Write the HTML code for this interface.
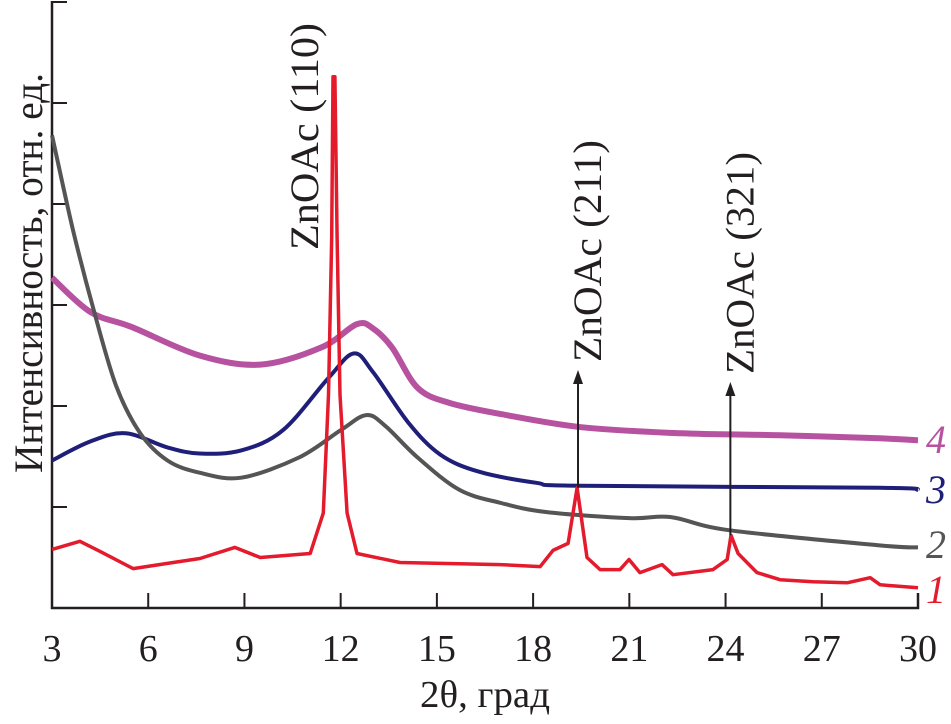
<!DOCTYPE html>
<html><head><meta charset="utf-8"><style>
html,body{margin:0;padding:0;background:#fff;}
svg{display:block;}
text{font-family:"Liberation Serif","Times New Roman",serif;fill:#231f20;}
</style></head><body>
<svg id="chart" width="951" height="724" viewBox="0 0 951 724">
<g id="axes"></g>
<g id="series"></g>
<g id="annot"></g>
</svg>
<script>
const xTicks=[3,6,9,12,15,18,21,24,27,30];
const yTickVals=[1,2,3,4,5,6];
const t1=[3,3.87,4.5,5.53,6.78,7.61,8.7,9.49,11.05,11.46,11.62,11.72,11.76,11.82,11.89,11.98,12.2,12.51,13.85,16.97,18.22,18.62,19.09,19.37,19.68,20.09,20.71,20.99,21.33,22.02,22.36,23.61,24.05,24.17,24.39,24.98,25.7,26.73,27.79,28.51,28.82,30];
const v1=[0.58,0.66,0.56,0.39,0.45,0.49,0.60,0.50,0.54,0.94,2.11,3.67,5.26,5.26,3.67,2.11,0.94,0.54,0.45,0.43,0.41,0.57,0.64,1.19,0.50,0.38,0.38,0.48,0.35,0.43,0.33,0.38,0.48,0.72,0.54,0.35,0.28,0.26,0.25,0.30,0.23,0.20];
const t2=[3,3.65,4.3,5.0,5.75,6.6,7.6,8.9,10.7,12,12.8,13.4,14.4,15.7,17,18.4,21,22.3,24.1,28.8,30];
const v2=[4.68,3.75,2.95,2.2,1.73,1.46,1.34,1.29,1.49,1.76,1.91,1.80,1.49,1.17,1.04,0.95,0.89,0.90,0.77,0.62,0.60];
const t3=[3,4.2,5.3,6.6,7.6,8.9,10.2,11.6,12.4,13,14.1,15.1,16.3,18.1,19.5,28.8,30];
const v3=[1.46,1.65,1.73,1.59,1.53,1.56,1.76,2.27,2.52,2.34,1.84,1.52,1.35,1.24,1.21,1.19,1.17];
const t4=[3,4.2,5.5,7.6,9.5,11.4,12.5,13,13.6,14.4,15.4,17,19.5,22.6,25.7,28.8,30];
const v4=[3.27,2.93,2.78,2.50,2.41,2.58,2.81,2.77,2.58,2.18,2.03,1.92,1.79,1.73,1.71,1.68,1.66];
const peaks=[19.4,24.15];
const peakTops=[1.19,0.72];

const NS="http://www.w3.org/2000/svg";
const FF='"Liberation Serif","Times New Roman",serif';
const X0=52,X1=918,Y0=608,PX=101;
const sx=t=>X0+(t-3)*(X1-X0)/27;
const sy=v=>Y0-v*PX;
function mk(tag,attrs,parent){const e=document.createElementNS(NS,tag);for(const k in attrs)e.setAttribute(k,attrs[k]);parent.appendChild(e);return e;}
function smooth(pts){
 let d='M'+pts[0][0].toFixed(1)+','+pts[0][1].toFixed(1);
 for(let i=0;i<pts.length-1;i++){
  const p0=pts[i-1]||pts[i],p1=pts[i],p2=pts[i+1],p3=pts[i+2]||p2;
  const c1=[p1[0]+(p2[0]-p0[0])/6,p1[1]+(p2[1]-p0[1])/6];
  const c2=[p2[0]-(p3[0]-p1[0])/6,p2[1]-(p3[1]-p1[1])/6];
  d+='C'+c1.map(n=>n.toFixed(1))+' '+c2.map(n=>n.toFixed(1))+' '+p2[0].toFixed(1)+','+p2[1].toFixed(1);
 }
 return d;
}
const axes=document.getElementById('axes'),series=document.getElementById('series'),annot=document.getElementById('annot');

let a=mk('path',{d:`M${X0},${sy(6)-1}V${Y0}H${X1}V${Y0-15}`,fill:'none',stroke:'#231f20','stroke-width':2.5},axes);


xTicks.forEach(t=>{
 const l=mk('line',{x1:sx(t),x2:sx(t),y1:Y0,y2:Y0-15,stroke:'#231f20','stroke-width':2},axes);
 
 
 const tx=mk('text',{x:sx(t),y:661,'text-anchor':'middle','font-size':38,'font-family':FF},axes);
 tx.textContent=t;
 
 
});
yTickVals.forEach(v=>{
 const l=mk('line',{x1:X0,x2:X0+15,y1:sy(v),y2:sy(v),stroke:'#231f20','stroke-width':2},axes);
 
 
});
let xt=mk('text',{x:485,y:707,'text-anchor':'middle','font-size':38,'font-family':FF,textLength:130,lengthAdjust:'spacingAndGlyphs'},axes);
xt.textContent='2θ, град';


let yt=mk('text',{x:0,y:0,'text-anchor':'middle','font-size':40,'font-family':FF,textLength:400,lengthAdjust:'spacingAndGlyphs',transform:'translate(42,273) rotate(-90)'},axes);
yt.textContent='Интенсивность, отн. ед.';



const defs=[[t4,v4,'#b6529f',6,'4',440,true],[t3,v3,'#1f1f7a',4,'3',490,true],[t2,v2,'#555555',4,'2',545,true],[t1,v1,'#e31b2c',3.5,'1',590,false]];
defs.forEach(([ts,vs,c,w,lab,ly,sm])=>{
 const pts=ts.map((t,i)=>[sx(t),sy(vs[i])]);
 const d=sm?smooth(pts):pts.map((p,i)=>(i?'L':'M')+p[0].toFixed(1)+','+p[1].toFixed(1)).join('');
 const p=mk('path',{d:d,fill:'none',stroke:c,'stroke-width':w,'stroke-linejoin':'round'},series);
 
 
 const tx=mk('text',{x:936,y:ly+13,'text-anchor':'middle','font-size':40,'font-style':'italic','font-family':FF,fill:c},series);
 tx.style.fill=c;
 tx.textContent=lab;
 
 
});

const labels=['ZnOAc (211)','ZnOAc (321)'];
peaks.forEach((t,i)=>{
 const x=sx(t),yb=sy(peakTops[i]),ytop=i?382:370;
 const l=mk('line',{x1:x,x2:x,y1:yb,y2:ytop+12,stroke:'#231f20','stroke-width':2},annot);
 
 
 const h=mk('path',{d:`M${x-5},${ytop+14}L${x},${ytop}L${x+5},${ytop+14}Z`,fill:'#231f20'},annot);
 
 
 const tx=mk('text',{x:0,y:0,'font-size':40,'font-family':FF,textLength:222,lengthAdjust:'spacingAndGlyphs',transform:`translate(${x+23},${ytop-8}) rotate(-90)`},annot);
 tx.textContent=labels[i];
 
 
});
let p1=mk('text',{x:0,y:0,'font-size':40,'font-family':FF,textLength:227,lengthAdjust:'spacingAndGlyphs',transform:'translate(318,250) rotate(-90)'},annot);
p1.textContent='ZnOAc (110)';


</script>
</body></html>
